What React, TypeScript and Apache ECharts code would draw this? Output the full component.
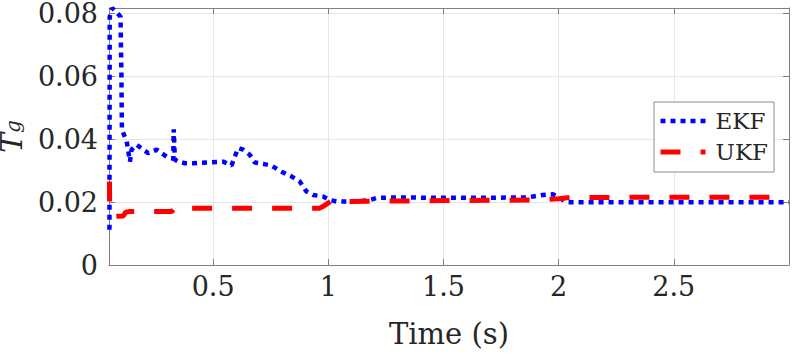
import React, { useEffect, useRef } from 'react';
import * as echarts from 'echarts';

// EKF estimate of T_g over time
const ekfTime = [
  0.050, 0.051, 0.062, 0.080, 0.098, 0.102, 0.104, 0.110, 0.125, 0.132,
  0.139, 0.146, 0.168, 0.197, 0.218, 0.255, 0.276, 0.298, 0.320, 0.327,
  0.329, 0.331, 0.334, 0.349, 0.378, 0.414, 0.544, 0.580, 0.594, 0.609,
  0.630, 0.659, 0.681, 0.717, 0.754, 0.797, 0.840, 0.876, 0.905, 0.934,
  0.977, 1.006, 1.035, 1.122, 1.180, 1.209, 1.267, 1.500, 1.700, 1.850,
  1.888, 1.931, 1.975, 1.996, 2.033, 2.500, 3.000,
];
const ekfValue = [
  0.0112, 0.0790, 0.0818, 0.0805, 0.0790, 0.0600, 0.0430, 0.0420, 0.0393, 0.0361,
  0.0329, 0.0367, 0.0383, 0.0367, 0.0356, 0.0367, 0.0356, 0.0345, 0.0340, 0.0338,
  0.0432, 0.0432, 0.0335, 0.0329, 0.0324, 0.0324, 0.0329, 0.0317, 0.0345, 0.0372,
  0.0367, 0.0351, 0.0326, 0.0322, 0.0316, 0.0297, 0.0282, 0.0266, 0.0234, 0.0223,
  0.0218, 0.0207, 0.0202, 0.0202, 0.0207, 0.0213, 0.0215, 0.0214, 0.0214, 0.0215,
  0.0218, 0.0223, 0.0225, 0.0218, 0.0200, 0.0200, 0.0200,
];

// UKF estimate of T_g over time
const ukfTime = [
  0.050, 0.051, 0.060, 0.110, 0.120, 0.135, 0.320, 0.334, 0.345, 0.963,
  0.976, 1.020, 1.050, 1.200, 1.500, 1.900, 2.000, 2.050, 3.000,
];
const ukfValue = [
  0.0266, 0.0186, 0.0154, 0.0156, 0.0168, 0.0170, 0.0170, 0.0183, 0.0181, 0.0181,
  0.0186, 0.0207, 0.0202, 0.0203, 0.0205, 0.0207, 0.0211, 0.0215, 0.0216,
];

const seriesNames = ['EKF', 'UKF'];
const xTicks = [0.5, 1, 1.5, 2, 2.5];
const yTicks = [0, 0.02, 0.04, 0.06, 0.08];
const xMin = 0.048;
const xMax = 3;
const yMin = 0;
const yMax = 0.0818;

export default function App() {
  const ref = useRef<HTMLDivElement>(null);

  useEffect(() => {
    if (!ref.current) return;
    const chart = echarts.init(ref.current, null, { renderer: 'svg' });
    const font = 'DejaVu Serif';
    const axisColor = '#808080';
    const textColor = '#262626';
    const gridColor = '#e6e6e6';

    const ekfData = ekfTime.map((t, i) => [t, ekfValue[i]]);
    const ukfData = ukfTime.map((t, i) => [t, ukfValue[i]]);

    const baseX = {
      type: 'value',
      min: xMin,
      max: xMax,
      axisLine: { show: true, onZero: false, lineStyle: { color: axisColor, width: 1 } },
      axisTick: { show: true, inside: true, length: 6, customValues: xTicks, lineStyle: { color: axisColor } },
    };
    const baseY = {
      type: 'value',
      min: yMin,
      max: yMax,
      axisLine: { show: true, onZero: false, lineStyle: { color: axisColor, width: 1 } },
      axisTick: { show: true, inside: true, length: 6, customValues: yTicks, lineStyle: { color: axisColor } },
    };

    chart.setOption({
      animation: false,
      textStyle: { fontFamily: font },
      grid: { left: 109, top: 8, right: 4, bottom: 90, containLabel: false, outerBoundsMode: 'none' },
      xAxis: [
        {
          ...baseX,
          position: 'bottom',
          axisLabel: {
            customValues: xTicks,
            formatter: (v: number) => String(v),
            fontFamily: font,
            fontSize: 27,
            lineHeight: 24,
            color: textColor,
            margin: 9,
          },
          splitLine: { show: true, lineStyle: { color: gridColor, width: 1 } },
          name: 'Time (s)',
          nameLocation: 'middle',
          nameGap: 54,
          nameTextStyle: { fontFamily: font, fontSize: 29, color: textColor },
        },
        {
          ...baseX,
          position: 'top',
          axisLabel: { show: false },
          splitLine: { show: false },
        },
      ],
      yAxis: [
        {
          ...baseY,
          position: 'left',
          axisLabel: {
            customValues: yTicks,
            formatter: (v: number) => (v === 0 ? '0' : v.toFixed(2)),
            fontFamily: font,
            fontSize: 27,
            lineHeight: 20,
            color: textColor,
            margin: 11,
          },
          splitLine: { show: true, lineStyle: { color: gridColor, width: 1 } },
          name: '{t|T}{g|g}',
          nameLocation: 'middle',
          nameRotate: 90,
          nameGap: 82,
          nameTextStyle: {
            fontFamily: font,
            rich: {
              t: { fontFamily: font, fontStyle: 'italic', fontSize: 30, color: textColor, lineHeight: 23 },
              g: { fontFamily: font, fontStyle: 'italic', fontSize: 20, color: textColor, verticalAlign: 'bottom', lineHeight: 14 },
            },
          },
        },
        {
          ...baseY,
          position: 'right',
          axisLabel: { show: false },
          splitLine: { show: false },
        },
      ],
      legend: {
        orient: 'vertical',
        left: 654,
        top: 102,
        padding: [5, 6, 6, 4],
        itemGap: 3,
        itemWidth: 45,
        itemHeight: 28,
        backgroundColor: '#ffffff',
        borderColor: '#8c8c8c',
        borderWidth: 1,
        borderRadius: 0,
        data: seriesNames.map((n) => ({ name: n, itemStyle: { opacity: 0 } })),
        lineStyle: { width: 'inherit' },
        textStyle: { fontFamily: font, fontSize: 23, color: textColor, lineHeight: 28, padding: [0, 0, 0, 5] },
      },
      series: [
        {
          name: seriesNames[0],
          type: 'line',
          data: ekfData,
          symbol: 'none',
          showSymbol: false,
          lineStyle: { color: '#0000ff', width: 4.5, type: [5, 5], cap: 'butt' },
          itemStyle: { color: '#0000ff' },
          z: 2,
        },
        {
          name: seriesNames[1],
          type: 'line',
          data: ukfData,
          symbol: 'none',
          showSymbol: false,
          lineStyle: { color: '#ff0000', width: 5, type: [20, 20], cap: 'butt' },
          itemStyle: { color: '#ff0000' },
          z: 3,
        },
      ],
    });

    return () => chart.dispose();
  }, []);

  return (
    <div
      ref={ref}
      style={{ position: 'absolute', left: 0, top: 0, width: 793, height: 355 }}
    />
  );
}
